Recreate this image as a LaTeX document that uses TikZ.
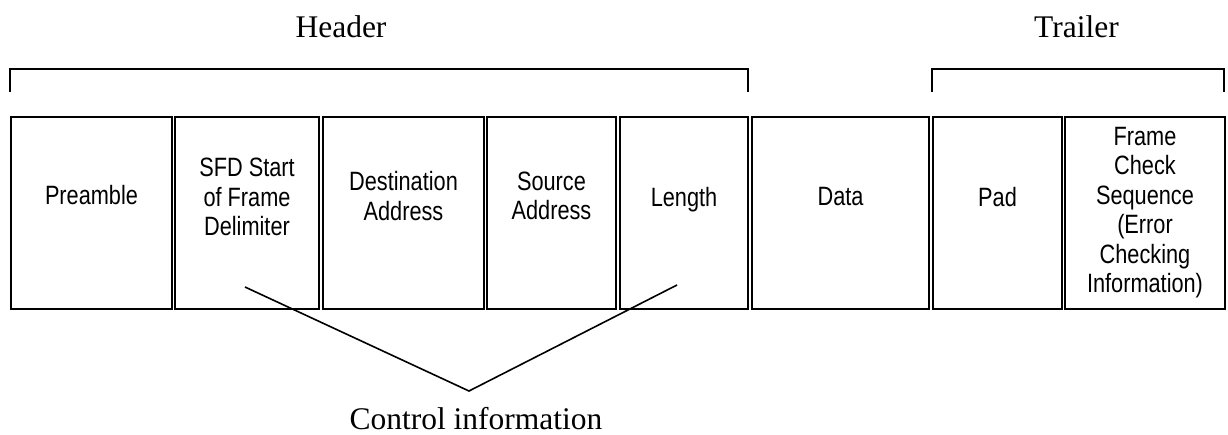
\documentclass[tikz,border=0pt]{standalone}
\usepackage{fontspec}
\setmainfont{Liberation Serif}
\newfontfamily\narrowsans[FakeStretch=0.82]{Liberation Sans}
\usetikzlibrary{calc}
\begin{document}
\begin{tikzpicture}[x=1pt,y=-1pt,
  seg/.style={draw=black, line width=1.6pt, rectangle, inner sep=0pt, minimum height=192pt},
  segtxt/.style={align=center, inner sep=0pt, font=\narrowsans\fontsize{26.5}{29.5}\selectfont},
  lbl/.style={inner sep=0pt, font=\fontsize{31.5}{36}\selectfont},
  brk/.style={draw=black, line width=1.6pt},
  conn/.style={draw=black, line width=1.6pt}]
\useasboundingbox (0,0) rectangle (1228,434);
% segments
\node[seg, minimum width=161pt] (pre) at (91.5,213) {};
\node[seg, minimum width=144pt] (sfd) at (247,213) {};
\node[seg, minimum width=161pt] (dst) at (403.5,213) {};
\node[seg, minimum width=129pt] (src) at (551.5,213) {};
\node[seg, minimum width=128pt] (len) at (684,213) {};
\node[seg, minimum width=177pt] (dat) at (840.5,213) {};
\node[seg, minimum width=129pt] (pad) at (997.5,213) {};
\node[seg, minimum width=160pt] (fcs) at (1145,213) {};
% texts
\node[segtxt] (tpre) at (91.5,195.3) {Preamble};
\node[segtxt] (tsfd) at (247,197) {SFD Start\\of Frame\\Delimiter};
\node[segtxt] (tdst) at (403.5,196) {Destination\\Address};
\node[segtxt] (tsrc) at (551.5,196) {Source\\Address};
\node[segtxt] (tlen) at (684,200) {Length};
\node[segtxt] (tdat) at (840.5,197) {Data};
\node[segtxt] (tpad) at (997.5,197) {Pad};
\node[segtxt] (tfcs) at (1145,212.8) {Frame\\Check\\Sequence\\(Error\\Checking\\Information)};
% brackets
\draw[brk] ($(pre.north west)+(0,-24)$) |- ($(len.north east)+(-1,-47)$) -- ($(len.north east)+(-1,-24)$);
\draw[brk] ($(pad.north west)+(0,-24)$) |- ($(fcs.north east)+(-2,-47)$) -- ($(fcs.north east)+(-2,-24)$);
\node[lbl, anchor=base] (hdr) at (341,37) {Header};
\node[lbl, anchor=base] (trl) at (1076.5,37) {Trailer};
% control information
\coordinate (sfdend) at (245,287);
\coordinate (lenend) at (677,285);
\coordinate (vtx) at (469,391);
\draw[conn] (sfdend) -- (vtx) -- (lenend);
\node[lbl, anchor=base] (ctl) at (476,429) {Control information};
\end{tikzpicture}
\end{document}
